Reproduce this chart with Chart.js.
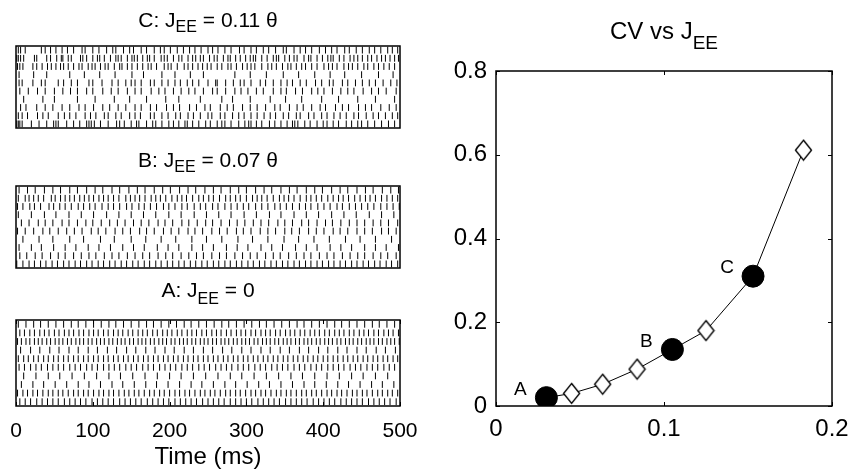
<!DOCTYPE html>
<html>
<head>
<meta charset="utf-8">
<script src="https://cdn.jsdelivr.net/npm/chart.js@4.4.0/dist/chart.umd.min.js"></script>
<style>
  html, body { margin: 0; padding: 0; background: #fff; }
  #page { position: relative; width: 851px; height: 476px; overflow: hidden; background: #fff; }
  .pane { position: absolute; }
</style>
</head>
<body>
<div id="page">
  <div class="pane" style="left:-8px;top:6px;width:440px;height:127px"><canvas id="rasterC"></canvas></div>
  <div class="pane" style="left:-8px;top:146px;width:440px;height:127px"><canvas id="rasterB"></canvas></div>
  <div class="pane" style="left:-8px;top:280px;width:440px;height:196px"><canvas id="rasterA"></canvas></div>
  <div class="pane" style="left:420px;top:0;width:440px;height:476px"><canvas id="cvChart"></canvas></div>
</div>
<script>
// --- CV vs J_EE (right panel) ---
const jee = [0.030, 0.045, 0.0635, 0.084, 0.105, 0.125, 0.153, 0.183];
const cv = [0.020, 0.030, 0.052, 0.088, 0.135, 0.180, 0.310, 0.611];
const pointTags = ['A', '', '', '', 'B', '', 'C', ''];
const cvXTicks = [0, 0.1, 0.2];
const cvYTicks = [0, 0.2, 0.4, 0.6, 0.8];

// --- raster time axis ---
const timeTicks = [0, 100, 200, 300, 400, 500];

// spike times (ms), one array per neuron, top row first
// A: J_EE = 0 (regular firing)
const spikesA = [
  [3,13,23,32,42,52,62,72,81,91,101,111,121,130,140,150,160,170,179,189,199,209,219,228,238,248,258,268,277,287,297,307,317,326,336,346,356,366,375,385,395,405,415,424,434,444,454,464,473,483,493],
  [5,11,18,24,31,37,43,50,56,63,69,75,82,88,95,101,107,114,120,127,133,139,146,152,159,165,171,178,184,191,197,203,210,216,223,229,235,242,248,255,261,267,274,280,287,293,299,306,312,319,325,331,338,344,351,357,363,370,376,383,389,395,402,408,415,421,427,434,440,447,453,459,466,472,479,485,491,498],
  [2,7,13,18,24,29,34,40,45,51,56,61,67,72,78,83,88,94,99,105,110,115,121,126,132,137,142,148,153,159,164,169,175,180,186,191,196,202,207,213,218,223,229,234,240,245,250,256,261,267,272,277,283,288,294,299,304,310,315,321,326,331,337,342,348,353,358,364,369,375,380,385,391,396,402,407,412,418,423,429,434,439,445,450,456,461,466,472,477,483,488,493,499],
  [6,19,31,44,56,69,81,94,106,119,131,144,156,169,181,194,206,219,231,244,256,269,281,294,306,319,331,344,356,369,381,394,406,419,431,444,456,469,481,494],
  [3,10,16,23,29,36,42,49,55,62,68,75,81,88,94,101,107,114,120,127,133,140,146,153,159,166,172,179,185,192,198,205,211,218,224,231,237,244,250,257,263,270,276,283,289,296,302,309,315,322,328,335,341,348,354,361,367,374,380,387,393,400,406,413,419,426,432,439,445,452,458,465,471,478,484,491,497],
  [4,11,19,26,33,41,48,55,62,70,77,84,92,99,106,114,121,128,135,143,150,157,165,172,179,187,194,201,208,216,223,230,238,245,252,260,267,274,281,289,296,303,311,318,325,333,340,347,354,362,369,376,384,391,398,406,413,420,427,435,442,449,457,464,471,479,486,493],
  [10,26,42,57,73,89,105,121,136,152,168,184,200,215,231,247,263,279,294,310,326,342,358,373,389,405,421,437,452,468,484],
  [7,22,36,51,66,81,95,110,125,139,154,169,183,198,213,228,242,257,272,286,301,316,330,345,360,375,389,404,419,433,448,463,477,492],
  [2,9,15,22,28,35,42,48,55,61,68,75,81,88,94,101,108,114,121,127,134,141,147,154,160,167,174,180,187,193,200,207,213,220,226,233,240,246,253,259,266,273,279,286,292,299,306,312,319,325,332,339,345,352,358,365,372,378,385,391,398,405,411,418,424,431,438,444,451,457,464,471,477,484,490,497],
  [5,12,19,27,34,41,48,55,63,70,77,84,91,99,106,113,120,127,135,142,149,156,163,171,178,185,192,199,207,214,221,228,235,243,250,257,264,271,279,286,293,300,307,315,322,329,336,343,351,358,365,372,379,387,394,401,408,415,423,430,437,444,451,459,466,473,480,487,495]
];

// B: J_EE = 0.07 theta
const spikesB = [
  [4,15,25,37,48,58,70,80,92,103,113,125,135,147,158,168,180,191,201,213,224,234,246,257,267,279,290,300,312,323,333,345,356,366,378,389,399,411,422,432,444,455,465,477,488,498],
  [3,12,17,23,29,36,46,51,58,64,70,76,83,89,95,101,108,114,120,127,134,143,149,155,161,168,176,182,188,195,203,210,216,222,230,238,244,251,257,265,273,279,286,292,300,308,314,320,327,335,343,349,355,362,370,378,384,391,398,406,413,420,426,433,441,448,455,461,468,476,483,490,497],
  [2,9,18,24,32,43,49,57,64,72,81,88,96,103,112,120,127,135,144,151,160,167,175,183,192,199,207,216,223,232,240,247,256,263,272,280,288,296,303,312,320,328,337,344,352,360,369,377,384,393,401,409,418,425,434,442,450,458,466,475,483,491,499],
  [3,20,37,52,69,85,101,118,134,150,166,182,199,215,232,248,264,280,297,313,330,345,362,378,394,411,427,443,460,476,492],
  [7,17,29,38,48,60,69,80,91,100,111,122,132,142,153,163,173,185,194,204,216,225,236,247,256,267,278,288,298,309,319,329,341,350,360,372,381,392,403,412,423,434,444,454,465,475,485,497],
  [2,12,23,35,44,55,66,76,86,98,107,117,129,139,149,161,170,180,192,202,212,224,233,243,255,265,275,287,296,306,318,328,338,350,359,369,381,391,401,413,422,432,444,454,464,476,485,495],
  [9,30,48,70,88,110,128,150,169,189,208,229,248,268,289,308,328,349,368,388,408,429,448,468,489],
  [4,20,33,49,64,78,94,108,123,139,153,167,184,198,212,229,243,257,274,288,302,319,333,347,364,378,392,409,423,437,454,468,482,498],
  [5,14,25,34,45,55,64,75,85,95,104,115,125,134,145,155,165,174,185,195,204,215,225,235,244,255,265,274,285,295,305,314,325,335,344,355,365,375,384,395,405,414,425,435,445,454,465,475,484,495],
  [1,9,17,24,32,39,47,54,62,69,77,84,92,99,107,114,122,129,137,144,152,159,167,174,182,189,197,204,212,219,227,234,242,249,257,264,272,279,287,294,302,309,317,324,332,339,347,354,362,369,377,384,392,399,407,414,422,429,437,444,452,459,467,474,482,489,497]
];

// C: J_EE = 0.11 theta (bursty)
const spikesC = [
  [3,6,12,33,38,45,52,60,67,75,86,90,100,108,118,126,130,140,148,153,163,170,180,188,193,201,210,218,226,233,241,250,256,263,272,280,291,297,306,313,322,329,338,348,352,362,370,377,385,395,403,411,418,428,434,443,451,460,467,475,484,490,497],
  [1,3,6,10,24,27,40,45,53,59,61,68,72,84,87,92,100,106,109,115,123,130,133,137,145,151,154,158,165,171,174,180,189,193,197,205,212,216,224,230,234,240,244,252,258,262,270,276,279,286,292,299,305,309,312,320,327,335,339,342,350,356,362,366,375,381,384,392,399,406,410,413,421,427,435,440,445,451,458,463,470,476,481,487,493,498],
  [2,5,9,22,27,34,41,46,52,58,62,68,75,82,86,94,99,103,110,116,120,128,135,138,145,151,158,165,172,176,183,193,198,202,210,219,224,230,237,243,249,254,262,268,276,280,287,295,301,306,311,320,328,333,339,347,354,358,365,372,377,385,392,401,407,412,418,427,433,438,445,453,458,466,472,479,486,493],
  [4,23,40,70,89,109,129,151,166,190,207,227,244,285,305,326,348,368,389,409,428,450,472,491],
  [4,8,22,33,38,55,62,72,80,95,100,112,125,133,143,150,155,163,175,180,190,198,207,214,223,230,238,250,260,262,273,283,292,297,306,318,325,335,345,353,360,370,378,390,398,408,413,425,432,442,451,460,468,478,488,496],
  [5,16,28,38,50,61,71,80,92,100,113,124,133,145,155,163,176,186,194,205,215,225,233,244,256,262,273,285,293,302,313,322,335,345,352,364,373,385,393,401,412,423,432,440,452,463,472,482,495],
  [10,35,50,80,103,128,148,170,195,212,240,268,282,305,331,351,372,398,420,445,468,493],
  [6,13,27,38,48,60,70,82,90,101,113,122,133,143,155,163,175,183,196,205,213,226,235,246,253,266,275,283,295,305,314,325,337,344,356,366,374,385,396,403,416,425,433,446,455,463,475,486,495],
  [3,8,15,28,35,42,55,63,70,78,90,97,104,115,120,130,137,148,155,162,175,180,190,198,208,214,224,231,240,250,255,266,272,282,290,297,306,314,323,331,338,348,355,365,370,381,388,398,405,414,422,430,440,446,456,465,472,481,490,497],
  [1,3,5,8,20,30,40,49,52,55,66,75,83,92,95,98,102,110,120,131,135,141,150,157,160,170,178,182,190,199,205,212,220,223,230,238,247,253,262,268,272,280,290,298,303,306,313,320,330,337,345,353,360,363,367,376,383,392,400,405,413,420,430,437,445,450,458,467,476,485,493]
];

const FONT = "'Liberation Sans', Arial, Helvetica, sans-serif";

// open diamond marker, a little taller than wide
function diamondMarker(hw, hh) {
  const c = document.createElement('canvas');
  c.width = 2 * hw + 3;
  c.height = 2 * hh + 3;
  const g = c.getContext('2d');
  const m = 1.5;
  g.beginPath();
  g.moveTo(hw + m, m);
  g.lineTo(2 * hw + m, hh + m);
  g.lineTo(hw + m, 2 * hh + m);
  g.lineTo(m, hh + m);
  g.closePath();
  g.fillStyle = '#fff';
  g.fill();
  g.strokeStyle = '#000';
  g.lineWidth = 1.4;
  g.stroke();
  return c;
}
const diamond = diamondMarker(8, 10);

// Box around the axes, inward tick marks, title with subscript, point letters
const matlabFrame = {
  id: 'matlabFrame',
  afterDraw(chart, args, opts) {
    const ctx = chart.ctx;
    const a = chart.chartArea;
    ctx.save();
    ctx.strokeStyle = '#000';
    ctx.lineWidth = 1.5;
    ctx.strokeRect(a.left, a.top, a.right - a.left, a.bottom - a.top);

    ctx.lineWidth = 1;
    const len = opts.tickLen || 4;
    ctx.beginPath();
    (opts.xTicks || []).forEach(v => {
      const px = Math.round(chart.scales.x.getPixelForValue(v)) + 0.5;
      ctx.moveTo(px, a.top); ctx.lineTo(px, a.top + len);
      ctx.moveTo(px, a.bottom); ctx.lineTo(px, a.bottom - len);
    });
    (opts.yTicks || []).forEach(v => {
      const py = Math.round(chart.scales.y.getPixelForValue(v)) + 0.5;
      ctx.moveTo(a.left, py); ctx.lineTo(a.left + len, py);
      ctx.moveTo(a.right, py); ctx.lineTo(a.right - len, py);
    });
    ctx.stroke();

    if (opts.title) {
      const parts = opts.title;
      const sizes = parts.map((p, i) => i % 2 ? opts.subSize : opts.titleSize);
      const widths = parts.map((p, i) => {
        ctx.font = sizes[i] + 'px ' + FONT;
        return ctx.measureText(p).width;
      });
      const total = widths.reduce((s, w) => s + w, 0);
      let x = (a.left + a.right) / 2 - total / 2;
      const base = a.top - opts.titleGap;
      ctx.fillStyle = '#000';
      ctx.textAlign = 'left';
      ctx.textBaseline = 'alphabetic';
      parts.forEach((p, i) => {
        ctx.font = sizes[i] + 'px ' + FONT;
        ctx.fillText(p, x, base + (i % 2 ? opts.subDrop : 0));
        x += widths[i];
      });
    }

    if (opts.tags) {
      const meta = chart.getDatasetMeta(0);
      ctx.font = '19px ' + FONT;
      ctx.fillStyle = '#000';
      ctx.textAlign = 'center';
      ctx.textBaseline = 'middle';
      opts.tags.forEach((t, i) => {
        if (!t) return;
        const el = meta.data[i];
        ctx.fillText(t, el.x - 26, el.y - 8);
      });
    }
    ctx.restore();
  }
};

function rasterChart(id, rows, title, titleGap, subDrop, showAxis) {
  const points = [];
  rows.forEach((times, i) => times.forEach(t => points.push({ x: t, y: i + 1 })));
  const xScale = {
    type: 'linear', min: 0, max: 500,
    display: showAxis,
    grid: { display: false, drawTicks: false },
    border: { display: false },
    ticks: {
      stepSize: 100, color: '#000', padding: 13, maxRotation: 0,
      font: { family: FONT, size: 21 }
    },
    title: {
      display: true, text: 'Time (ms)', color: '#000',
      font: { family: FONT, size: 24 }, padding: { top: 0, bottom: 4 }
    }
  };
  if (showAxis) xScale.afterFit = s => { s.height = 70; };
  return new Chart(document.getElementById(id), {
    type: 'scatter',
    data: {
      datasets: [{
        data: points,
        pointStyle: 'line',
        rotation: 90,
        radius: 3.4,
        borderColor: '#000',
        backgroundColor: '#000',
        borderWidth: 1
      }]
    },
    options: {
      animation: false,
      responsive: true,
      maintainAspectRatio: false,
      events: [],
      layout: { padding: { left: 24, right: 32, top: 40, bottom: showAxis ? 0 : 2 } },
      plugins: {
        legend: { display: false },
        tooltip: { enabled: false },
        matlabFrame: {
          title: title, titleSize: 21, subSize: 16, titleGap: titleGap, subDrop: subDrop,
          xTicks: showAxis ? timeTicks : []
        }
      },
      scales: {
        x: xScale,
        y: { min: 0.5, max: 10.5, reverse: true, display: false }
      }
    },
    plugins: [matlabFrame]
  });
}

rasterChart('rasterC', spikesC, ['C: J', 'EE', ' = 0.11 \u03b8'], 19, 5, false);
rasterChart('rasterB', spikesB, ['B: J', 'EE', ' = 0.07 \u03b8'], 19, 5, false);
rasterChart('rasterA', spikesA, ['A: J', 'EE', ' = 0'], 23, 7, true);

new Chart(document.getElementById('cvChart'), {
  type: 'line',
  data: {
    datasets: [{
      data: jee.map((x, i) => ({ x: x, y: cv[i] })),
      borderColor: '#000',
      borderWidth: 1,
      tension: 0,
      fill: false,
      pointStyle: pointTags.map(t => t ? 'circle' : diamond),
      pointRadius: pointTags.map(t => t ? 11 : 9),
      pointBackgroundColor: pointTags.map(t => t ? '#000' : '#fff'),
      pointBorderColor: '#000',
      pointBorderWidth: 1
    }]
  },
  options: {
    animation: false,
    responsive: true,
    maintainAspectRatio: false,
    events: [],
    layout: { padding: { left: 0, right: 28, top: 71, bottom: 0 } },
    plugins: {
      legend: { display: false },
      tooltip: { enabled: false },
      matlabFrame: {
        title: ['CV vs J', 'EE'], titleSize: 24, subSize: 19, titleGap: 32, subDrop: 10,
        xTicks: cvXTicks, yTicks: cvYTicks, tags: pointTags
      }
    },
    scales: {
      x: {
        type: 'linear', min: 0, max: 0.2,
        grid: { display: false, drawTicks: false },
        border: { display: false },
        ticks: { stepSize: 0.1, color: '#000', padding: 9, maxRotation: 0, font: { family: FONT, size: 24 } },
        afterFit: s => { s.height = 70; }
      },
      y: {
        min: 0, max: 0.8,
        grid: { display: false, drawTicks: false },
        border: { display: false },
        ticks: { stepSize: 0.2, color: '#000', padding: 9, font: { family: FONT, size: 24 } },
        afterFit: s => { s.width = 76; }
      }
    }
  },
  plugins: [matlabFrame]
});
</script>
</body>
</html>
